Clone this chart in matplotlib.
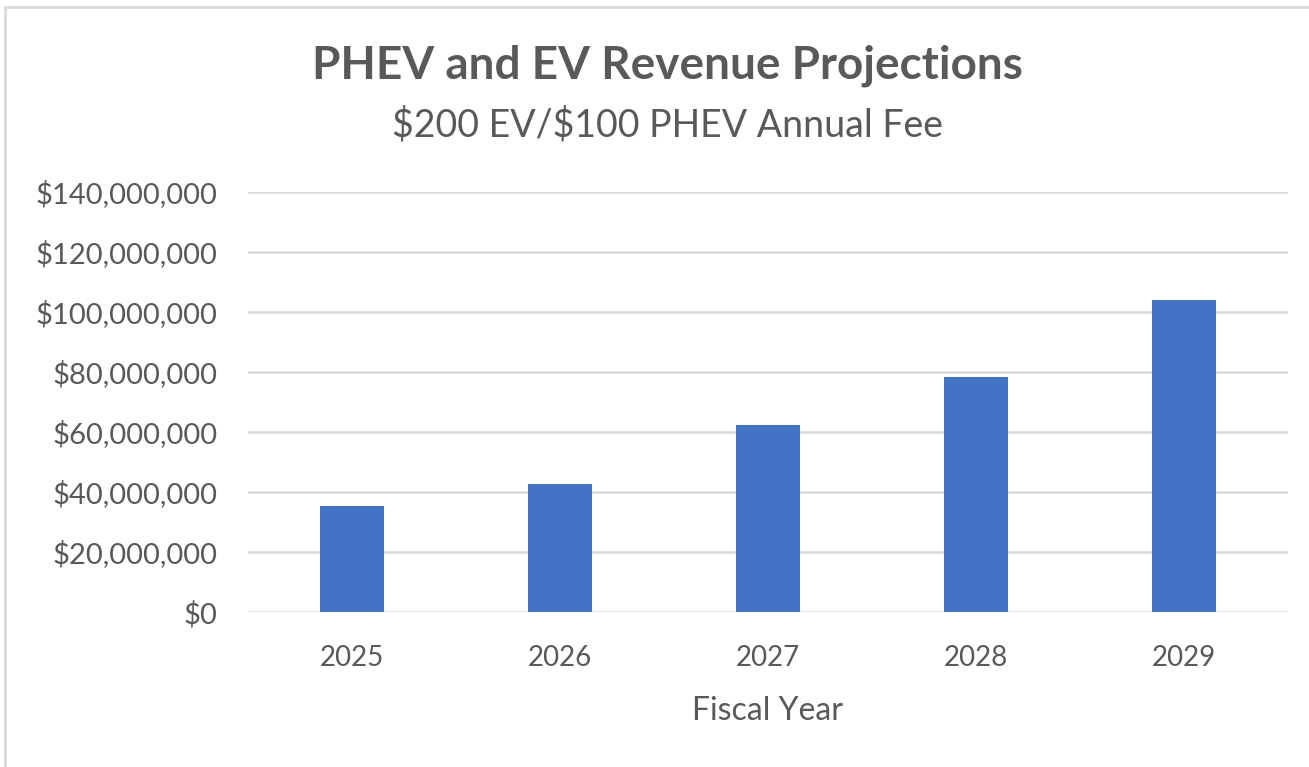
import matplotlib.pyplot as plt
from matplotlib.patches import Rectangle
from matplotlib.ticker import FuncFormatter

# datos
years = ['2025', '2026', '2027', '2028', '2029']
revenue = [35.5e6, 42.7e6, 62.3e6, 78.5e6, 104.0e6]

gris = '#595959'
plt.rcParams['font.family'] = ['Lato', 'DejaVu Sans']

fig = plt.figure(figsize=(13.09, 7.67), dpi=100)
ax = fig.add_axes([248/1309, 1 - 612/767, 1040/1309, 420/767])

ax.bar(range(len(years)), revenue, width=0.31, color='#4472C4', zorder=3)
ax.set_xlim(-0.5, len(years) - 0.5)
ax.set_ylim(0, 140e6)
ax.set_yticks([i * 20e6 for i in range(8)])
ax.yaxis.set_major_formatter(FuncFormatter(lambda v, p: '\\${:,.0f}'.format(v)))
ax.set_xticks(range(len(years)))
ax.set_xticklabels(years)
ax.grid(axis='y', color='#D9D9D9', linewidth=1.8, zorder=0)
for s in ax.spines.values():
    s.set_visible(False)
ax.tick_params(length=0, labelcolor=gris)
ax.tick_params(axis='y', pad=22, labelsize=21)
ax.tick_params(axis='x', pad=24, labelsize=20)
ax.set_xlabel('Fiscal Year', fontsize=23, color=gris, labelpad=18)

fig.text(0.510, 1 - 66/767, 'PHEV and EV Revenue Projections', ha='center', va='center',
         fontsize=33, fontweight='bold', color=gris)
fig.text(0.510, 1 - 125/767, '\\$200 EV/\\$100 PHEV Annual Fee', ha='center', va='center',
         fontsize=27, color=gris)

# marco del grafico
fig.patches.append(Rectangle((5/1309, -0.05), 1.1, 1 - 7/767 + 0.05, transform=fig.transFigure,
                             fill=False, edgecolor='#D9D9D9', linewidth=2))

fig.savefig('out.png', dpi=100)
